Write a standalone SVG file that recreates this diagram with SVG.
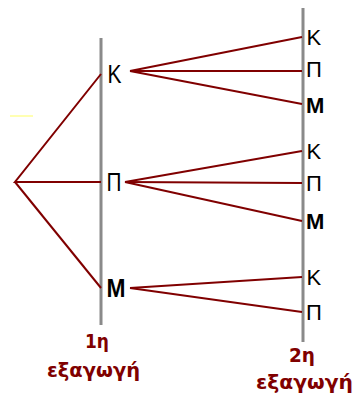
<svg xmlns="http://www.w3.org/2000/svg" width="353" height="396" viewBox="0 0 353 396">
<style>
.axis{stroke:#8a8a8a;stroke-width:3;fill:none}
.edge{stroke:#800000;stroke-width:2;fill:none}
.lbl{font-family:"Liberation Sans",Arial,sans-serif;fill:#000}
.big{font-size:25px}
.small{font-size:22px}
.cap{font-family:"DejaVu Sans",Verdana,sans-serif;fill:#800000;font-size:19px;font-weight:bold}
</style>
<rect width="353" height="396" fill="#fff"/>
<line x1="10" y1="116" x2="33" y2="116" stroke="#ffff99" stroke-width="1.5"/>
<g id="axes">
<line class="axis" x1="101" y1="38" x2="101" y2="325"/>
<line class="axis" x1="303" y1="8" x2="303" y2="342"/>
</g>
<g id="connectors">
<polyline class="edge" points="101,74 15,182 101,182"/>
<line class="edge" x1="15" y1="182" x2="101" y2="288"/>
<line class="edge" x1="130" y1="71" x2="302" y2="37"/>
<line class="edge" x1="130" y1="71" x2="302" y2="71"/>
<line class="edge" x1="130" y1="71" x2="302" y2="104"/>
<line class="edge" x1="125" y1="182" x2="302" y2="151"/>
<line class="edge" x1="125" y1="182" x2="302" y2="183"/>
<line class="edge" x1="125" y1="182" x2="302" y2="221"/>
<line class="edge" x1="130" y1="288" x2="302" y2="277"/>
<line class="edge" x1="130" y1="288" x2="302" y2="312"/>
</g>
<g id="n1-K"><text class="lbl big" x="107.5" y="82.5" textLength="14" lengthAdjust="spacingAndGlyphs">K</text></g>
<g id="n1-P"><text class="lbl big" x="106.5" y="191" textLength="15" lengthAdjust="spacingAndGlyphs">Π</text></g>
<g id="n1-M"><text class="lbl big" x="106.5" y="297" font-weight="bold" textLength="19" lengthAdjust="spacingAndGlyphs">M</text></g>
<g id="n2-K1"><text class="lbl small" x="306.5" y="45">K</text></g>
<g id="n2-P1"><text class="lbl small" x="306" y="77">Π</text></g>
<g id="n2-M1"><text class="lbl small" x="306" y="112.5" font-weight="bold">M</text></g>
<g id="n2-K2"><text class="lbl small" x="306.5" y="159">K</text></g>
<g id="n2-P2"><text class="lbl small" x="306" y="191">Π</text></g>
<g id="n2-M2"><text class="lbl small" x="306" y="229" font-weight="bold">M</text></g>
<g id="n2-K3"><text class="lbl small" x="306.5" y="285">K</text></g>
<g id="n2-P3"><text class="lbl small" x="306" y="320">Π</text></g>
<g id="cap1"><text class="cap" x="85" y="348" textLength="24" lengthAdjust="spacingAndGlyphs">1η</text><text class="cap" x="47" y="377" textLength="93" lengthAdjust="spacingAndGlyphs">εξαγωγή</text></g>
<g id="cap2"><text class="cap" x="289" y="362" textLength="26" lengthAdjust="spacingAndGlyphs">2η</text><text class="cap" x="256" y="389" textLength="97" lengthAdjust="spacingAndGlyphs">εξαγωγή</text></g>
</svg>
